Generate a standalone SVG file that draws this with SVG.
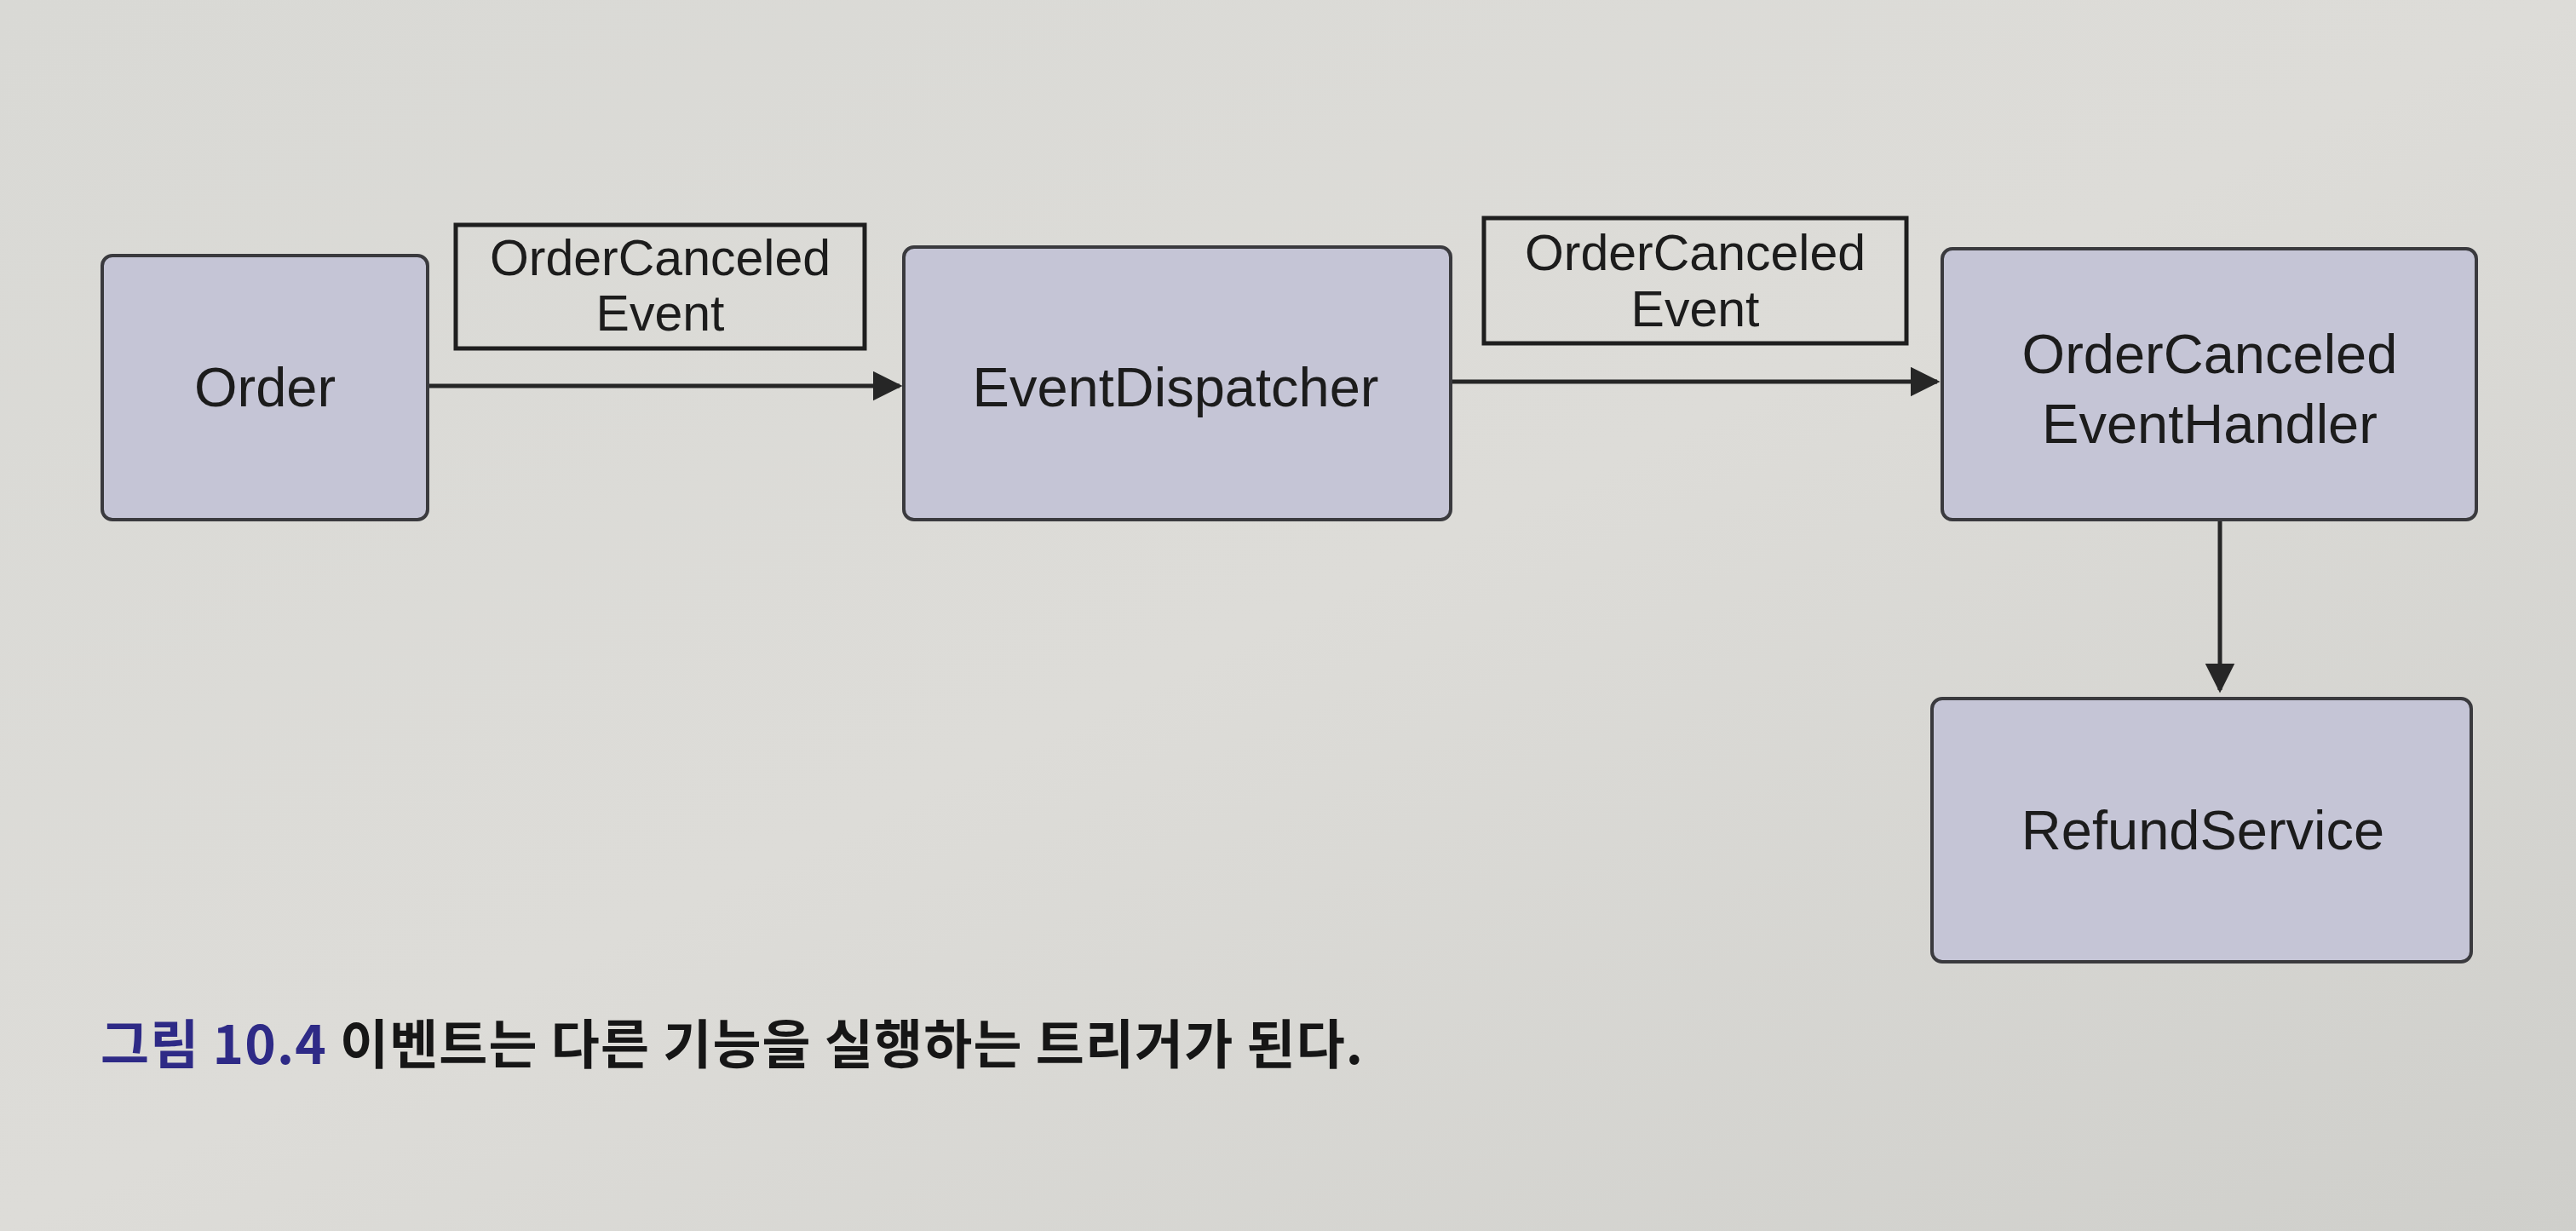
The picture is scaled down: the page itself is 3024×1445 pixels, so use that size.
<svg xmlns="http://www.w3.org/2000/svg" width="3024" height="1445" viewBox="0 0 3024 1445">
<defs>
<linearGradient id="bg" x1="0" y1="0" x2="1" y2="1">
<stop offset="0" stop-color="#d9d9d5"/>
<stop offset="0.5" stop-color="#dddcd8"/>
<stop offset="1" stop-color="#cfcfcb"/>
</linearGradient>
<marker id="ah" viewBox="0 0 10 10" refX="9" refY="5" markerWidth="7" markerHeight="7" markerUnits="strokeWidth" orient="auto">
<path d="M0,0 L10,5 L0,10 z" fill="#262626"/>
</marker>
<style>
.node{fill:#c5c5d6;stroke:#3a3a3e;stroke-width:4}
.lbl{fill:none;stroke:#1e1e1e;stroke-width:5}
.t{font-family:"Liberation Sans",Arial,sans-serif;font-size:65px;fill:#1c1c1c;text-anchor:middle}
.tl{font-family:"Liberation Sans",Arial,sans-serif;font-size:59px;fill:#1c1c1c;text-anchor:middle}
.conn{stroke:#262626;stroke-width:5;fill:none}
.cap{font-family:"Noto Sans CJK KR",sans-serif;font-size:62px;font-weight:bold}
</style>
</defs>
<rect width="3024" height="1445" fill="url(#bg)"/>
<g id="connectors">
<line class="conn" x1="502" y1="453" x2="1056" y2="453" marker-end="url(#ah)"/>
<line class="conn" x1="1703" y1="448" x2="2274" y2="448" marker-end="url(#ah)"/>
<line class="conn" x1="2606" y1="610" x2="2606" y2="810" marker-end="url(#ah)"/>
</g>
<g id="label1">
<rect class="lbl" x="535" y="264" width="480" height="145"/>
<text class="tl" x="775" y="323">OrderCanceled</text>
<text class="tl" x="775" y="388">Event</text>
</g>
<g id="label2">
<rect class="lbl" x="1742" y="256" width="496" height="147"/>
<text class="tl" x="1990" y="317">OrderCanceled</text>
<text class="tl" x="1990" y="383">Event</text>
</g>
<g id="order">
<rect class="node" x="120" y="300" width="382" height="310" rx="12"/>
<text class="t" x="311" y="477">Order</text>
</g>
<g id="dispatcher">
<rect class="node" x="1061" y="290" width="642" height="320" rx="12"/>
<text class="t" x="1380" y="477">EventDispatcher</text>
</g>
<g id="handler">
<rect class="node" x="2280" y="292" width="627" height="318" rx="12"/>
<text class="t" x="2594" y="438">OrderCanceled</text>
<text class="t" x="2594" y="520">EventHandler</text>
</g>
<g id="refund">
<rect class="node" x="2268" y="820" width="633" height="309" rx="12"/>
<text class="t" x="2586" y="997">RefundService</text>
</g>
<text class="cap" x="118" y="1249" textLength="1482" lengthAdjust="spacing"><tspan fill="#2e2a86">그림 10.4</tspan><tspan fill="#161616"> 이벤트는 다른 기능을 실행하는 트리거가 된다.</tspan></text>
</svg>
